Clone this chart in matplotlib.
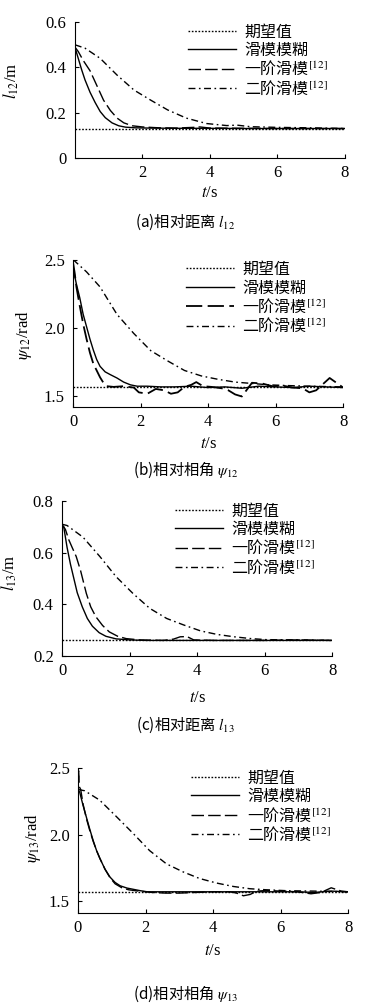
import matplotlib
matplotlib.use("Agg")
import matplotlib.pyplot as plt

plt.rcParams['font.family'] = ['Liberation Serif', 'Noto Sans CJK SC']
plt.rcParams['mathtext.fontset'] = 'stix'

legend_labels = ['期望值', '滑模模糊', '一阶滑模$^{[12]}$', '二阶滑模$^{[12]}$']

# (a) relative distance l12
a_ref = 0.13
a_fz_t = [0, 0.1, 0.2, 0.3, 0.45, 0.6, 0.75, 0.9, 1.1, 1.3, 1.5, 1.8, 2.2, 3, 4, 5, 6, 7, 8]
a_fz_y = [0.49, 0.44, 0.39, 0.345, 0.29, 0.245, 0.205, 0.178, 0.155, 0.142, 0.136, 0.133, 0.132,
          0.131, 0.131, 0.13, 0.13, 0.13, 0.13]
a_sm1_t = [0, 0.1, 0.25, 0.45, 0.65, 0.85, 1.05, 1.25, 1.45, 1.7, 2.0, 2.5, 3, 3.5, 3.7, 4, 5, 6, 7, 8]
a_sm1_y = [0.49, 0.47, 0.43, 0.385, 0.32, 0.255, 0.21, 0.176, 0.155, 0.142, 0.137, 0.133, 0.132,
           0.135, 0.137, 0.132, 0.131, 0.13, 0.13, 0.13]
a_sm2_t = [0, 0.3, 0.75, 1.25, 1.75, 2.25, 2.75, 3.3, 3.9, 4.5, 4.8, 5.2, 6, 7, 8]
a_sm2_y = [0.5, 0.485, 0.44, 0.366, 0.30, 0.255, 0.212, 0.176, 0.152, 0.143, 0.145, 0.138, 0.135,
           0.133, 0.13]

# (b) relative bearing psi12
b_ref = 1.57
b_fz_t = [0, 0.05, 0.1, 0.2, 0.3, 0.4, 0.5, 0.6, 0.7, 0.8, 0.95, 1.1, 1.3, 1.5, 1.7, 1.9, 2.2, 2.6,
          3, 3.5, 4, 4.5, 5, 5.5, 6, 6.5, 7, 7.5, 8]
b_fz_y = [2.45, 2.38, 2.32, 2.22, 2.1, 2.01, 1.92, 1.84, 1.77, 1.72, 1.68, 1.66, 1.635, 1.605, 1.585,
          1.575, 1.575, 1.57, 1.57, 1.575, 1.565, 1.57, 1.56, 1.575, 1.57, 1.565, 1.575, 1.57, 1.565]
b_sm1_t = [0, 0.05, 0.1, 0.2, 0.3, 0.4, 0.5, 0.6, 0.7, 0.8, 0.9, 1.0, 1.2, 1.5, 1.8, 1.95, 2.2, 2.45,
           2.7, 2.9, 3.1, 3.3, 3.5, 3.65, 3.85, 4.1, 4.4, 4.6, 4.8, 5.0, 5.15, 5.3, 5.6, 5.9, 6.2,
           6.5, 6.8, 7.0, 7.2, 7.4, 7.6, 7.8, 8.0]
b_sm1_y = [2.48, 2.40, 2.30, 2.16, 2.03, 1.92, 1.82, 1.74, 1.69, 1.64, 1.60, 1.575, 1.57, 1.575,
           1.565, 1.53, 1.52, 1.555, 1.545, 1.52, 1.53, 1.57, 1.585, 1.605, 1.575, 1.57, 1.56, 1.545,
           1.515, 1.50, 1.55, 1.60, 1.595, 1.575, 1.58, 1.565, 1.56, 1.53, 1.545, 1.59, 1.635, 1.60,
           1.565]
b_sm2_t = [0, 0.4, 0.8, 1.3, 1.8, 2.3, 2.8, 3.3, 3.8, 4.3, 4.8, 5.3, 5.8, 6.3, 7, 8]
b_sm2_y = [2.5, 2.41, 2.30, 2.10, 1.96, 1.835, 1.76, 1.69, 1.65, 1.625, 1.605, 1.595, 1.585, 1.58,
           1.575, 1.57]

# (c) relative distance l13
c_ref = 0.26
c_fz_t = [0, 0.05, 0.15, 0.25, 0.35, 0.45, 0.6, 0.75, 0.9, 1.1, 1.3, 1.6, 2.0, 2.5, 3, 4, 5, 6, 7, 8]
c_fz_y = [0.70, 0.70, 0.62, 0.555, 0.50, 0.445, 0.39, 0.345, 0.315, 0.29, 0.276, 0.266, 0.262, 0.26,
          0.26, 0.26, 0.26, 0.26, 0.26, 0.26]
c_sm1_t = [0, 0.1, 0.2, 0.3, 0.42, 0.55, 0.72, 0.85, 1.0, 1.2, 1.4, 1.65, 1.9, 2.3, 3, 3.3, 3.5, 3.7,
           3.9, 4.5, 5, 6, 7, 8]
c_sm1_y = [0.71, 0.69, 0.65, 0.62, 0.585, 0.53, 0.442, 0.39, 0.352, 0.318, 0.293, 0.276, 0.267,
           0.262, 0.26, 0.265, 0.274, 0.275, 0.262, 0.26, 0.26, 0.26, 0.262, 0.26]
c_sm2_t = [0, 0.15, 0.62, 1.12, 1.6, 2.1, 2.6, 3.1, 3.6, 4.1, 4.6, 5.1, 5.6, 6.05, 7, 8]
c_sm2_y = [0.71, 0.705, 0.66, 0.585, 0.507, 0.442, 0.384, 0.345, 0.32, 0.297, 0.283, 0.274, 0.267,
           0.263, 0.262, 0.26]

# (d) relative bearing psi13
d_ref = 1.57
d_fz_t = [0, 0.05, 0.15, 0.25, 0.35, 0.45, 0.55, 0.65, 0.8, 0.95, 1.1, 1.25, 1.45, 1.65, 1.85, 2.05,
          2.5, 3, 3.5, 4, 4.5, 5, 5.5, 6, 6.5, 7, 7.5, 8]
d_fz_y = [2.34, 2.32, 2.22, 2.13, 2.04, 1.955, 1.88, 1.82, 1.74, 1.68, 1.64, 1.615, 1.598, 1.588,
          1.578, 1.57, 1.57, 1.57, 1.57, 1.57, 1.57, 1.57, 1.57, 1.57, 1.57, 1.565, 1.575, 1.57]
d_sm1_t = [0, 0.02, 0.04, 0.08, 0.15, 0.25, 0.35, 0.45, 0.55, 0.65, 0.8, 0.95, 1.1, 1.3, 1.5, 1.8,
           2.2, 2.6, 3.0, 3.5, 4, 4.5, 4.7, 4.9, 5.1, 5.3, 5.6, 6, 6.5, 6.9, 7.2, 7.5, 7.8, 8]
d_sm1_y = [2.35, 2.48, 2.36, 2.34, 2.23, 2.12, 2.03, 1.95, 1.88, 1.82, 1.74, 1.675, 1.63, 1.60,
           1.585, 1.575, 1.565, 1.56, 1.56, 1.565, 1.57, 1.57, 1.56, 1.54, 1.55, 1.575, 1.58, 1.575,
           1.57, 1.555, 1.565, 1.6, 1.575, 1.57]
d_sm2_t = [0, 0.2, 0.64, 1.14, 1.63, 2.12, 2.62, 3.11, 3.6, 4.1, 4.6, 5.09, 5.58, 6.2, 7, 8]
d_sm2_y = [2.34, 2.33, 2.26, 2.135, 2.01, 1.88, 1.78, 1.72, 1.67, 1.636, 1.61, 1.593, 1.585, 1.578,
           1.575, 1.57]


def panel(fig, rect, ref, fz, sm1, sm2, ylim, yticks, ylabels, xticks, ylab, ylab_pos, xlab_y,
          sm1_lw=1.0):
    ax = fig.add_axes(rect)
    ax.plot([0, 8], [ref, ref], color='k', lw=1.0, dashes=(1.2, 1.2), label=legend_labels[0])
    ax.plot(fz[0], fz[1], color='k', lw=1.0, label=legend_labels[1])
    ax.plot(sm1[0], sm1[1], color='k', lw=sm1_lw, dashes=(9, 3), label=legend_labels[2])
    ax.plot(sm2[0], sm2[1], color='k', lw=1.0, dashes=(5, 2.5, 1.2, 2.5), label=legend_labels[3])
    ax.set_xlim(0, 8)
    ax.set_ylim(*ylim)
    ax.set_yticks(yticks)
    ax.set_yticklabels(ylabels)
    ax.set_xticks(xticks)
    ax.set_xticklabels([str(v) for v in xticks])
    for s in ['top', 'right']:
        ax.spines[s].set_visible(False)
    ax.tick_params(direction='in', length=3, labelsize=12, pad=5)
    ax.tick_params(axis='y', pad=6)
    ax.set_ylabel(ylab, fontsize=12)
    ax.yaxis.set_label_coords(*ylab_pos)
    ax.set_xlabel('$t$/s', fontsize=12)
    ax.xaxis.set_label_coords(0.5, xlab_y)
    ax.legend(loc='upper left', bbox_to_anchor=(0.42, 0.99), frameon=False,
              prop={'family': 'Noto Sans CJK SC', 'size': 11.5}, handlelength=3.0,
              handletextpad=0.5, labelspacing=0.08, borderpad=0, borderaxespad=0)
    return ax


fig = plt.figure(figsize=(3.67, 10.06), dpi=100)

panel(fig, [0.204, 0.843, 0.736, 0.135], a_ref, (a_fz_t, a_fz_y), (a_sm1_t, a_sm1_y),
      (a_sm2_t, a_sm2_y), (0, 0.6), [0, 0.2, 0.4, 0.6], ['0', '0.2', '0.4', '0.6'], [2, 4, 6, 8],
      '$l_{12}$/m', (-0.2, 0.57), -0.2)
panel(fig, [0.199, 0.595, 0.736, 0.147], b_ref, (b_fz_t, b_fz_y), (b_sm1_t, b_sm1_y),
      (b_sm2_t, b_sm2_y), (1.42, 2.5), [1.5, 2.0, 2.5], ['1.5', '2.0', '2.5'], [0, 2, 4, 6, 8],
      r'$\psi_{12}$/rad', (-0.145, 0.49), -0.19, sm1_lw=1.3)
panel(fig, [0.169, 0.348, 0.736, 0.154], c_ref, (c_fz_t, c_fz_y), (c_sm1_t, c_sm1_y),
      (c_sm2_t, c_sm2_y), (0.2, 0.8), [0.2, 0.4, 0.6, 0.8], ['0.2', '0.4', '0.6', '0.8'],
      [0, 2, 4, 6, 8], '$l_{13}$/m', (-0.16, 0.535), -0.22)
panel(fig, [0.2125, 0.0924, 0.736, 0.144], d_ref, (d_fz_t, d_fz_y), (d_sm1_t, d_sm1_y),
      (d_sm2_t, d_sm2_y), (1.41, 2.5), [1.5, 2.0, 2.5], ['1.5', '2.0', '2.5'], [0, 2, 4, 6, 8],
      r'$\psi_{13}$/rad', (-0.128, 0.517), -0.21)

captions = ['(a)相对距离 $l_{12}$', r'(b)相对相角 $\psi_{12}$', '(c)相对距离 $l_{13}$',
            r'(d)相对相角 $\psi_{13}$']
caption_y = [222, 470, 725, 994]
for cap, yy in zip(captions, caption_y):
    fig.text(0.505, 1 - yy / 1006, cap, ha='center', va='center', fontsize=11,
             family='Noto Sans CJK SC')

plt.savefig('out.png', dpi=100)
